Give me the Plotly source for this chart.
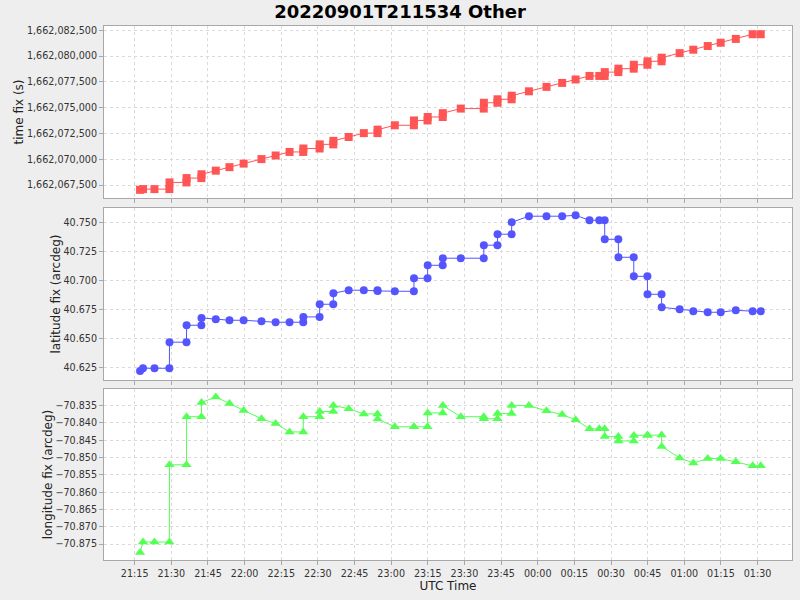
import plotly.graph_objects as go
from plotly.subplots import make_subplots

title_text = "20220901T211534 Other"

utc_times = [
    "2022-09-01 21:17:12", "2022-09-01 21:18:24", "2022-09-01 21:23:06", "2022-09-01 21:29:12",
    "2022-09-01 21:29:15", "2022-09-01 21:36:12", "2022-09-01 21:36:15", "2022-09-01 21:42:18",
    "2022-09-01 21:42:21", "2022-09-01 21:48:12", "2022-09-01 21:53:48", "2022-09-01 21:59:36",
    "2022-09-01 22:06:54", "2022-09-01 22:12:42", "2022-09-01 22:18:24", "2022-09-01 22:24:00",
    "2022-09-01 22:24:03", "2022-09-01 22:30:42", "2022-09-01 22:30:45", "2022-09-01 22:36:18",
    "2022-09-01 22:36:21", "2022-09-01 22:42:36", "2022-09-01 22:48:48", "2022-09-01 22:54:24",
    "2022-09-01 22:54:27", "2022-09-01 23:01:30", "2022-09-01 23:09:18", "2022-09-01 23:09:21",
    "2022-09-01 23:14:54", "2022-09-01 23:14:57", "2022-09-01 23:21:06", "2022-09-01 23:21:09",
    "2022-09-01 23:28:30", "2022-09-01 23:37:54", "2022-09-01 23:37:57", "2022-09-01 23:43:30",
    "2022-09-01 23:43:33", "2022-09-01 23:49:18", "2022-09-01 23:49:21", "2022-09-01 23:56:24",
    "2022-09-02 00:03:36", "2022-09-02 00:10:00", "2022-09-02 00:15:30", "2022-09-02 00:21:12",
    "2022-09-02 00:25:12", "2022-09-02 00:27:24", "2022-09-02 00:27:27", "2022-09-02 00:33:00",
    "2022-09-02 00:33:03", "2022-09-02 00:39:18", "2022-09-02 00:39:21", "2022-09-02 00:44:54",
    "2022-09-02 00:44:57", "2022-09-02 00:50:42", "2022-09-02 00:50:45", "2022-09-02 00:58:06",
    "2022-09-02 01:03:42", "2022-09-02 01:09:36", "2022-09-02 01:14:54", "2022-09-02 01:21:06",
    "2022-09-02 01:28:00", "2022-09-02 01:31:18",
]

time_fix = [
    1662067030, 1662067100, 1662067100, 1662067100, 1662067750, 1662067750, 1662068170, 1662068170,
    1662068540, 1662068890, 1662069230, 1662069575, 1662070010, 1662070360, 1662070705, 1662070705,
    1662071040, 1662071040, 1662071440, 1662071440, 1662071780, 1662072155, 1662072530, 1662072530,
    1662072865, 1662073290, 1662073290, 1662073760, 1662073760, 1662074095, 1662074095, 1662074465,
    1662074910, 1662074910, 1662075475, 1662075475, 1662075810, 1662075810, 1662076160, 1662076585,
    1662077015, 1662077400, 1662077730, 1662078075, 1662078075, 1662078075, 1662078445, 1662078445,
    1662078780, 1662078780, 1662079160, 1662079160, 1662079495, 1662079495, 1662079845, 1662080285,
    1662080620, 1662080975, 1662081295, 1662081665, 1662082120, 1662082120,
]

latitude_fix = [
    40.6218, 40.6241, 40.6241, 40.6241, 40.6466, 40.6466, 40.6612, 40.6612,
    40.6675, 40.6664, 40.6655, 40.6655, 40.6646, 40.6638, 40.6638, 40.6638,
    40.6684, 40.6684, 40.6793, 40.6793, 40.6888, 40.6914, 40.6914, 40.6914,
    40.6908, 40.6905, 40.6905, 40.7017, 40.7017, 40.7129, 40.7129, 40.7190,
    40.7190, 40.7190, 40.7302, 40.7302, 40.7397, 40.7397, 40.7500, 40.7552,
    40.7552, 40.7552, 40.7560, 40.7517, 40.7517, 40.7517, 40.7353, 40.7353,
    40.7198, 40.7198, 40.7034, 40.7034, 40.6879, 40.6879, 40.6767, 40.6750,
    40.6733, 40.6724, 40.6724, 40.6741, 40.6733, 40.6733,
]

longitude_fix = [
    -70.8774, -70.8744, -70.8744, -70.8744, -70.8521, -70.8521, -70.8382, -70.8382,
    -70.8341, -70.8325, -70.8344, -70.8364, -70.8388, -70.8402, -70.8426, -70.8426,
    -70.8382, -70.8382, -70.8367, -70.8367, -70.8350, -70.8359, -70.8374, -70.8374,
    -70.8389, -70.8411, -70.8411, -70.8411, -70.8411, -70.8371, -70.8371, -70.8350,
    -70.8382, -70.8382, -70.8388, -70.8388, -70.8373, -70.8373, -70.8350, -70.8350,
    -70.8365, -70.8376, -70.8391, -70.8417, -70.8417, -70.8417, -70.8439, -70.8439,
    -70.8452, -70.8452, -70.8436, -70.8436, -70.8435, -70.8435, -70.8468, -70.8501,
    -70.8516, -70.8503, -70.8503, -70.8512, -70.8524, -70.8524,
]

fig = make_subplots(rows=3, cols=1, shared_xaxes=True)

FONT = "DejaVu Sans"
RED, BLUE, GREEN = "#FF5555", "#5555FF", "#55FF55"

fig.add_trace(go.Scatter(x=utc_times, y=time_fix, mode="lines+markers",
                         line=dict(color=RED, width=1),
                         marker=dict(symbol="square", size=8, color=RED)), row=1, col=1)
fig.add_trace(go.Scatter(x=utc_times, y=latitude_fix, mode="lines+markers",
                         line=dict(color=BLUE, width=1),
                         marker=dict(symbol="circle", size=8, color=BLUE)), row=2, col=1)
fig.add_trace(go.Scatter(x=utc_times, y=longitude_fix, mode="lines+markers",
                         line=dict(color=GREEN, width=1),
                         marker=dict(symbol="triangle-up", size=9, color=GREEN)), row=3, col=1)

axis_common = dict(showline=True, mirror=True, linecolor="#A8A8A8", linewidth=1,
                   showgrid=True, gridcolor="#DADADA", griddash="3px,3px", gridwidth=1,
                   ticks="outside", ticklen=4, tickcolor="#A8A8A8", zeroline=False,
                   automargin=False,
                   tickfont=dict(family=FONT, size=9.6, color="#333333"))

TITLE_FONT = dict(family=FONT, size=12, color="#222222")

xrange = ["2022-09-01 21:02:26", "2022-09-02 01:44:06"]
for i in (1, 2, 3):
    fig.update_xaxes(type="date", range=xrange, tick0="2022-09-01 21:15:00",
                     dtick=15 * 60 * 1000, tickformat="%H:%M",
                     showticklabels=(i == 3), row=i, col=1, **axis_common)

fig.update_xaxes(title=dict(text="UTC Time", font=TITLE_FONT, standoff=2), row=3, col=1)

fig.update_yaxes(range=[1662066239, 1662082917], tickformat=",d", dtick=2500,
                 tick0=1662067500, domain=[0.6779, 1.0],
                 title=dict(text="time fix (s)", font=TITLE_FONT, standoff=0),
                 row=1, col=1, **axis_common)
fig.update_yaxes(range=[40.614, 40.7623], tickformat=".3f", dtick=0.025, tick0=40.625,
                 domain=[0.3371, 0.6592],
                 title=dict(text="latitude fix (arcdeg)", font=TITLE_FONT, standoff=0),
                 row=2, col=1, **axis_common)
fig.update_yaxes(range=[-70.8796, -70.8302], tickformat=".3f", dtick=0.005, tick0=-70.835,
                 domain=[0.0, 0.3202],
                 title=dict(text="longitude fix (arcdeg)", font=TITLE_FONT, standoff=0),
                 row=3, col=1, **axis_common)

fig.update_layout(
    width=800, height=600,
    margin=dict(l=104, r=8, t=26, b=40),
    paper_bgcolor="#EEEEEE", plot_bgcolor="#FFFFFF",
    showlegend=False,
    font=dict(family=FONT, size=10, color="#333333"),
    title=dict(text="<b>" + title_text + "</b>", x=0.5, xanchor="center",
               y=1 - 12 / 600, yanchor="middle",
               font=dict(family=FONT, size=18, color="#000000")),
)

fig.write_html("out.html", config={"displayModeBar": False},
               post_script="document.body.style.margin='0';")
